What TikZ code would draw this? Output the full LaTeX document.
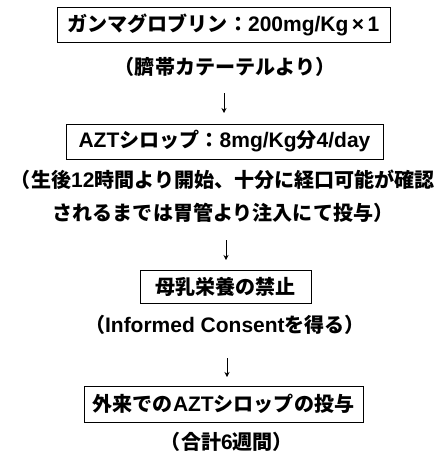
\documentclass[tikz,border=0pt]{standalone}
\usepackage{fontspec}
\setmainfont{Liberation Sans}
\newfontfamily\jp{Noto Sans CJK JP}[Scale=0.955]
\newcommand\J[1]{{\jp #1}}
\usetikzlibrary{arrows.meta}
\begin{document}
\begin{tikzpicture}[x=1pt,y=-1pt,
  every node/.style={font=\fontsize{21}{33}\selectfont\bfseries, inner sep=0pt},
  stepbox/.style={draw=black, line width=0.9pt, minimum height=35pt},
  note/.style={align=center},
  arr/.style={line width=1pt, -{Stealth[length=5pt,width=5pt]}}]
\useasboundingbox (0,0) rectangle (446,456);
\node[stepbox, minimum width=333pt] (b1) at (223.5,25) {\J{ガンマグロブリン：}200mg/Kg\,×\,1};
\node[note] (l1) at (225,67) {\J{（臍帯カテーテルより）}};
\node[stepbox, minimum width=317pt] (b2) at (224.5,141.5) {AZT\J{シロップ：}8mg/Kg\J{分}4/day};
\node[note] (l2) at (223,196.5) {\J{（生後}12\J{時間より開始、十分に経口可能が確認}\\\J{されるまでは胃管より注入にて投与）}};
\node[stepbox, minimum width=171pt, minimum height=33pt] (b3) at (225.5,286.5) {\J{母乳栄養の禁止}};
\node[note] (l3) at (225,325) {\J{（}Informed Consent\J{を得る）}};
\node[stepbox, minimum width=279pt, minimum height=36pt] (b4) at (223.5,404) {\J{外来での}AZT\J{シロップの投与}};
\node[note] (l4) at (227,442) {\J{（合計}6\J{週間）}};
\coordinate (a1s) at (224,93);  \coordinate (a1e) at (224,113);
\coordinate (a2s) at (226,240); \coordinate (a2e) at (226,260);
\coordinate (a3s) at (227,358); \coordinate (a3e) at (227,377);
\draw[arr] (a1s) -- (a1e);
\draw[arr] (a2s) -- (a2e);
\draw[arr] (a3s) -- (a3e);
\end{tikzpicture}
\end{document}
